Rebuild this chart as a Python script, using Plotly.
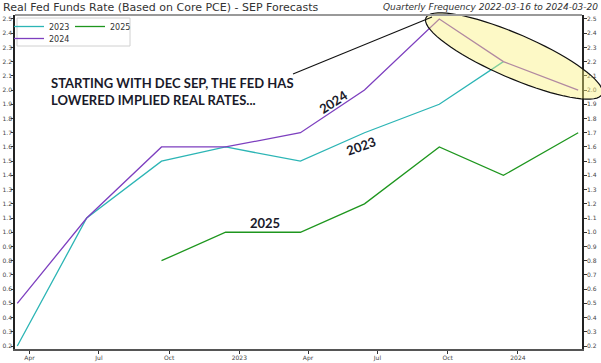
import math
import plotly.graph_objects as go

# ---- data ----
sep_dates = ["2022-03-16", "2022-06-15", "2022-09-21", "2022-12-14", "2023-03-22",
             "2023-06-14", "2023-09-20", "2023-12-13", "2024-03-20"]
rate_2023 = [0.2, 1.1, 1.5, 1.6, 1.5, 1.7, 1.9, 2.2, None]
rate_2024 = [0.5, 1.1, 1.6, 1.6, 1.7, 2.0, 2.5, 2.2, 2.0]
rate_2025 = [None, None, 0.8, 1.0, 1.0, 1.2, 1.6, 1.4, 1.7]

x_tickvals = ["2022-04-01", "2022-07-01", "2022-10-01", "2023-01-01", "2023-04-01",
              "2023-07-01", "2023-10-01", "2024-01-01"]
x_ticktext = ["Apr", "Jul", "Oct", "2023", "Apr", "Jul", "Oct", "2024"]
y_tickvals = [round(0.2 + 0.1 * i, 1) for i in range(24)]

W, H = 601, 363
ML, MR, MT, MB = 15, 19, 15, 14
PW, PH = W - ML - MR, H - MT - MB

def px(x):
    return (x - ML) / PW

def py(y):
    return (H - MB - y) / PH

fig = go.Figure()
fig.add_trace(go.Scatter(x=sep_dates, y=rate_2023, name="2023", mode="lines",
                         line=dict(color="#2cb5b5", width=1.3), legend="legend"))
fig.add_trace(go.Scatter(x=sep_dates, y=rate_2024, name="2024", mode="lines",
                         line=dict(color="#7d3fbf", width=1.3), legend="legend3"))
fig.add_trace(go.Scatter(x=sep_dates, y=rate_2025, name="2025", mode="lines",
                         line=dict(color="#1e961e", width=1.3), legend="legend2"))
fig.add_trace(go.Scatter(x=[sep_dates[0]], y=[None], yaxis="y2", showlegend=False,
                         hoverinfo="skip"))

# ellipse (rotated) in pixel space
cx, cy, a, b, ang = 514, 56, 96, 22, math.radians(23.4)
pts = []
for i in range(73):
    t = 2 * math.pi * i / 72
    ex = cx + a * math.cos(t) * math.cos(ang) - b * math.sin(t) * math.sin(ang)
    ey = cy + a * math.cos(t) * math.sin(ang) + b * math.sin(t) * math.cos(ang)
    pts.append((px(ex), py(ey)))
path = "M " + " L ".join(f"{x:.4f},{y:.4f}" for x, y in pts) + " Z"

shapes = [
    dict(type="path", path=path, xref="paper", yref="paper",
         fillcolor="rgba(250,240,120,0.42)", line=dict(color="#111111", width=1.2),
         layer="above"),
    dict(type="line", xref="paper", yref="paper", x0=px(293), y0=py(74), x1=px(432), y1=py(17),
         line=dict(color="#111111", width=1.1)),
    dict(type="line", xref="paper", yref="paper", x0=0, x1=1, y0=1, y1=1,
         line=dict(color="#999999", width=2)),
    dict(type="rect", xref="paper", yref="paper", x0=px(17), x1=px(130), y0=py(18), y1=py(46),
         line=dict(color="#d0d0d0", width=1), fillcolor="rgba(255,255,255,0.8)", layer="below"),
]

annotations = [
    dict(text="Real Fed Funds Rate (Based on Core PCE) - SEP Forecasts", xref="paper", yref="paper",
         x=px(1), y=py(7), xanchor="left", yanchor="middle", showarrow=False,
         font=dict(family="DejaVu Sans", size=11, color="#333333")),
    dict(text="<i>Quarterly Frequency 2022-03-16 to 2024-03-20</i>", xref="paper", yref="paper",
         x=px(600), y=py(7), xanchor="right", yanchor="middle", showarrow=False,
         font=dict(family="DejaVu Sans", size=9, color="#333333")),
    dict(text="<b>STARTING WITH DEC SEP, THE FED HAS<br>LOWERED IMPLIED REAL RATES...</b>",
         xref="paper", yref="paper", x=px(49), y=py(91), xanchor="left", yanchor="middle",
         align="left", showarrow=False,
         font=dict(family="Lato", size=13, color="#1a1a2a")),
    dict(text="<b>2024</b>", xref="paper", yref="paper", x=px(333), y=py(84), showarrow=False,
         textangle=-33, font=dict(family="Lato", size=13, color="#1a1a2a")),
    dict(text="<b>2023</b>", xref="paper", yref="paper", x=px(361), y=py(146), showarrow=False,
         textangle=-20, font=dict(family="Lato", size=13, color="#1a1a2a")),
    dict(text="<b>2025</b>", xref="paper", yref="paper", x=px(265), y=py(223), showarrow=False,
         font=dict(family="Lato", size=13, color="#1a1a2a")),
]

axis_font = dict(family="DejaVu Sans", size=6, color="#444444")
leg_font = dict(family="DejaVu Sans", size=8, color="#333333")
fig.update_layout(
    width=W, height=H, margin=dict(l=ML, r=MR, t=MT, b=MB, autoexpand=False),
    plot_bgcolor="white", paper_bgcolor="white",
    shapes=shapes, annotations=annotations,
    xaxis=dict(type="date", range=["2022-03-13", "2024-03-25"], tickvals=x_tickvals,
               ticktext=x_ticktext, ticks="outside", ticklen=3, tickcolor="#333333",
               showgrid=False, zeroline=False, showline=True, linecolor="#555555", linewidth=1.5,
               tickfont=axis_font, automargin=False, ticklabelstandoff=-1),
    yaxis=dict(range=[0.179, 2.528], tickvals=y_tickvals, tickformat=".1f", ticks="outside",
               ticklen=2, tickcolor="#333333", showgrid=False, zeroline=False, showline=True,
               linecolor="#222222", linewidth=1.5, tickfont=axis_font, automargin=False,
               ticklabelstandoff=-2),
    yaxis2=dict(range=[0.179, 2.528], tickvals=y_tickvals, tickformat=".1f", ticks="outside",
                ticklen=3, tickcolor="#333333", showgrid=False, zeroline=False, showline=True,
                linecolor="#222222", linewidth=1.5, tickfont=axis_font, overlaying="y",
                side="right", automargin=False, ticklabelstandoff=-1),
    legend=dict(x=px(9), y=py(12), xanchor="left", yanchor="top", bgcolor="rgba(0,0,0,0)",
                font=leg_font, itemwidth=30),
    legend2=dict(x=px(70), y=py(12), xanchor="left", yanchor="top", bgcolor="rgba(0,0,0,0)",
                 font=leg_font, itemwidth=30),
    legend3=dict(x=px(9), y=py(24), xanchor="left", yanchor="top", bgcolor="rgba(0,0,0,0)",
                 font=leg_font, itemwidth=30),
    showlegend=True,
)

fig.write_html("out.html", post_script="document.body.style.margin='0';",
               config={"displayModeBar": False})
